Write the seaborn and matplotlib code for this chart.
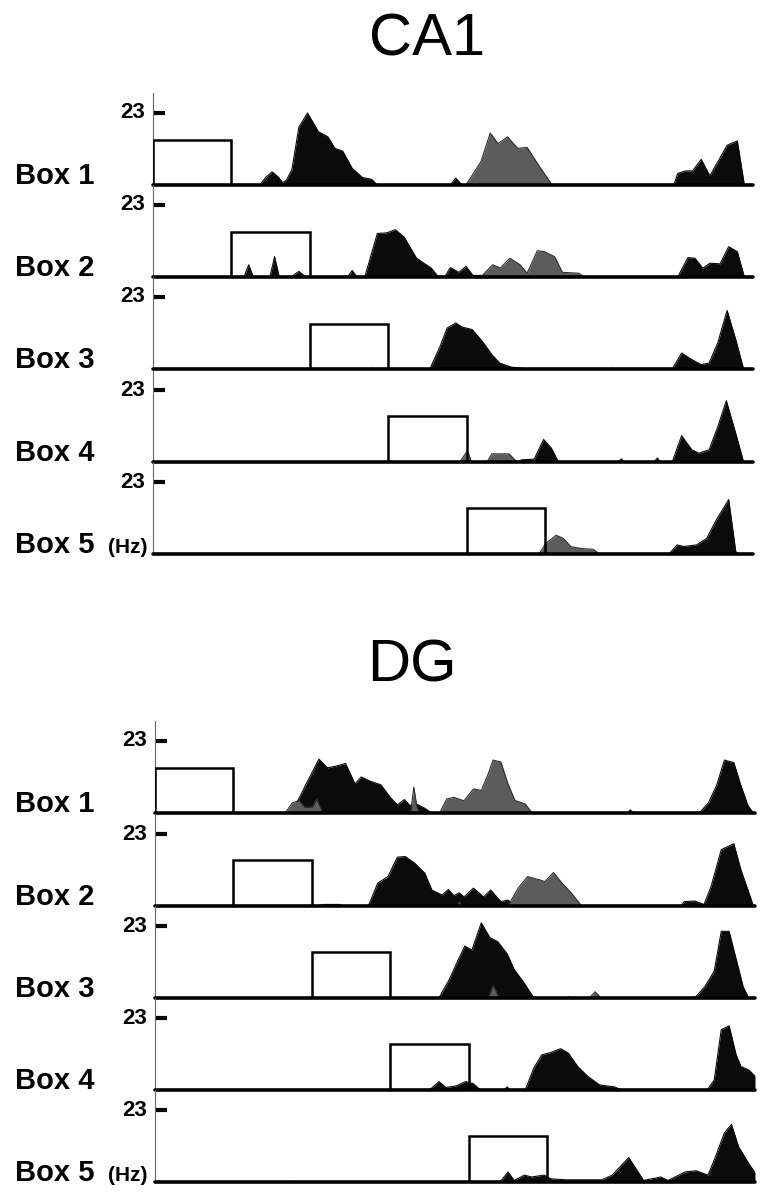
import matplotlib
matplotlib.use("Agg")
import matplotlib.pyplot as plt
import seaborn as sns
from matplotlib.patches import Rectangle

# -------------------------------------------------------
# Plot Style
# -------------------------------------------------------

sns.set_theme(style="white")
plt.rcParams["font.family"] = ["Liberation Sans", "DejaVu Sans"]

# -------------------------------------------------------
# Data (x in position units, y in Hz)
# -------------------------------------------------------

ROW_LABELS = ["Box 1", "Box 2", "Box 3", "Box 4", "Box 5"]
BOX_STARTS = [0, 10, 20, 30, 40]
BOX_WIDTH = 10
CA1_BOX_TOPS = [14.4, 14.4, 14.4, 14.7, 14.7]
DG_BOX_TOPS = [14.4, 14.7, 14.7, 14.7, 14.7]
Y_TICK = 23

ca1_b1_black = [(13.6, 0), (14.4, 2.5), (15.2, 4.2), (16.0, 2.5), (16.5, 0.8), (17.0, 1.5),
                (17.7, 4.8), (18.6, 18.5), (19.7, 23.0), (21.1, 17.0), (22.3, 15.4),
                (23.2, 11.7), (24.2, 10.8), (25.4, 5.3), (26.7, 2.4), (27.9, 1.8), (28.6, 0),
                (37.9, 0), (38.6, 2.2), (39.4, 0), (66.4, 0), (66.9, 3.7), (67.9, 4.5),
                (68.8, 4.5), (69.9, 8.2), (71.0, 2.9), (71.9, 6.9), (73.2, 12.7),
                (74.5, 14.1), (75.4, 0)]
ca1_b1_gray = [(39.9, 0), (41.8, 7.4), (43.0, 16.6), (44.0, 13.2), (45.2, 15.4),
               (46.5, 11.7), (47.7, 12.0), (49.3, 5.8), (50.9, 0)]

ca1_b2_black = [(11.6, 0), (12.2, 3.9), (12.8, 0), (14.9, 0), (15.5, 6.5), (16.1, 0),
                (17.6, 0), (18.6, 1.8), (19.5, 0), (24.8, 0), (25.4, 2.1), (26.0, 0),
                (27.0, 0), (28.6, 13.9), (29.8, 14.1), (30.9, 15.1), (32.0, 12.8),
                (33.6, 6.0), (35.5, 2.8), (36.4, 0), (37.2, 0), (37.9, 3.0), (39.0, 1.5),
                (39.9, 3.4), (40.8, 0.5), (42.2, 0.5), (43.0, 2.0), (43.8, 0.3), (66.9, 0),
                (68.2, 6.2), (69.1, 6.0), (70.1, 2.8), (71.0, 4.4), (72.3, 4.2), (73.4, 9.7),
                (74.5, 8.1), (75.4, 0)]
ca1_b2_gray = [(41.8, 0), (43.3, 3.9), (44.3, 2.9), (45.5, 6.0), (46.8, 3.9), (47.7, 1.2),
               (49.0, 8.4), (49.9, 8.1), (51.2, 6.5), (52.2, 1.5), (54.3, 1.2), (55.0, 0)]

ca1_b3_black = [(27.3, 0), (27.8, 0.3), (28.3, 0), (35.3, 0), (36.6, 7.2), (37.5, 13.1),
                (38.6, 14.7), (39.4, 13.4), (40.7, 12.6), (42.0, 8.8), (43.2, 4.6),
                (44.2, 1.9), (45.7, 0.6), (47.9, 0), (58.2, 0), (58.6, 0.3), (59.0, 0),
                (66.2, 0), (67.4, 5.1), (68.7, 3.0), (69.9, 1.4), (70.9, 1.9), (72.0, 8.3),
                (73.2, 18.7), (74.3, 9.4), (75.3, 0)]
ca1_b3_gray = []

ca1_b4_black = [(46.5, 0), (47.0, 0.7), (48.6, 0.9), (49.8, 7.2), (50.8, 4.4), (51.7, 0),
                (59.3, 0), (59.7, 1.0), (60.1, 0), (63.9, 0), (64.3, 1.3), (64.7, 0),
                (66.2, 0), (67.4, 8.4), (68.7, 3.9), (69.6, 2.8), (70.9, 3.9), (72.0, 11.2),
                (73.1, 19.6), (74.3, 9.1), (75.3, 0)]
ca1_b4_gray = [(39.1, 0), (40.1, 3.6), (40.6, 0), (42.6, 0), (43.2, 2.6), (45.4, 2.6),
               (46.4, 0)]

ca1_b5_black = [(65.8, 0), (66.8, 2.9), (67.7, 2.4), (69.3, 2.9), (70.6, 5.0), (71.8, 10.8),
                (73.4, 17.4), (74.3, 0.8), (74.6, 0)]
ca1_b5_gray = [(49.2, 0), (50.1, 3.4), (51.4, 6.0), (52.3, 5.0), (53.3, 2.3), (54.8, 1.7),
               (56.1, 1.5), (57.0, 0)]

dg_b1_black = [(16.9, 0), (18.1, 3.4), (19.4, 9.9), (20.9, 17.2), (22.0, 14.4), (23.1, 15.0),
               (24.3, 15.8), (25.5, 9.3), (26.3, 11.5), (27.5, 10.1), (28.8, 9.0),
               (30.0, 5.0), (30.9, 2.6), (31.8, 4.3), (32.5, 2.4), (33.4, 2.8), (34.4, 1.5),
               (35.3, 0), (60.2, 0), (60.6, 1.0), (61.0, 0), (69.4, 0), (70.6, 3.4),
               (71.6, 8.8), (72.6, 16.9), (73.8, 16.1), (74.7, 8.8), (75.6, 2.4), (76.3, 0)]
dg_b1_gray = [(16.6, 0), (17.5, 3.2), (18.4, 4.0), (19.1, 1.8), (20.1, 2.0), (20.6, 4.6),
              (21.3, 0.5), (21.6, 0), (32.6, 0), (33.0, 8.3), (33.4, 1.8), (33.8, 0),
              (36.3, 0), (37.2, 4.5), (38.1, 5.0), (39.4, 3.9), (40.6, 7.7), (41.6, 7.2),
              (42.5, 12.6), (43.1, 16.9), (44.1, 16.3), (45.0, 9.3), (45.9, 4.0),
              (47.2, 2.9), (48.1, 0)]

dg_b2_black = [(20.5, 0), (21.5, 0.5), (23.5, 0.5), (24.0, 0), (27.2, 0), (28.4, 7.3),
               (29.7, 9.4), (30.9, 15.6), (31.9, 15.8), (33.1, 13.7), (34.4, 10.5),
               (35.3, 5.1), (36.6, 3.5), (37.4, 5.3), (38.1, 3.3), (38.8, 4.2), (39.4, 2.9),
               (40.6, 5.7), (41.9, 2.9), (42.8, 5.1), (44.1, 1.4), (45.0, 1.9), (46.0, 0),
               (67.0, 0), (67.5, 1.4), (68.8, 1.6), (70.0, 0.5), (70.9, 6.2), (72.2, 18.0),
               (73.8, 19.9), (74.7, 11.6), (76.3, 0)]
dg_b2_gray = [(38.4, 0), (38.8, 1.4), (39.2, 0), (45.0, 0), (46.3, 5.7), (47.5, 9.4),
              (49.1, 8.3), (49.7, 7.8), (50.8, 10.7), (51.9, 7.3), (53.1, 4.1), (54.4, 0)]

dg_b3_black = [(31.3, 0), (31.6, 0.3), (31.9, 0), (36.2, 0), (37.5, 5.8), (38.7, 12.4),
               (39.5, 16.6), (40.4, 15.3), (41.6, 24.0), (42.7, 19.3), (43.7, 18.0),
               (44.9, 14.1), (45.8, 9.1), (47.1, 4.7), (48.3, 0), (52.4, 0), (52.7, 0.4),
               (53.0, 0), (68.8, 0), (70.1, 3.6), (71.3, 8.6), (72.2, 21.3), (73.2, 21.3),
               (74.1, 12.4), (75.0, 3.5), (75.7, 0)]
dg_b3_gray = [(42.5, 0), (43.1, 4.1), (43.8, 0.5), (44.0, 0), (55.4, 0), (56.1, 2.0),
              (56.9, 0)]

dg_b4_black = [(35.0, 0), (36.2, 2.7), (37.1, 0.8), (38.4, 1.3), (39.6, 2.7), (40.6, 2.0),
               (41.5, 0), (44.5, 0), (44.9, 1.0), (45.3, 0), (47.2, 0), (48.3, 7.0),
               (49.3, 11.2), (50.5, 12.0), (51.7, 13.2), (52.7, 11.8), (53.9, 7.5),
               (55.2, 4.3), (56.7, 1.6), (58.6, 1.0), (59.5, 0), (70.4, 0), (71.3, 3.2),
               (72.2, 19.3), (73.2, 20.5), (74.1, 11.2), (74.7, 7.5), (75.7, 6.4),
               (76.5, 4.5)]
dg_b4_gray = []

dg_b5_black = [(17.3, 0), (17.6, 0.3), (17.9, 0), (44.0, 0), (45.0, 3.2), (45.8, 0.5),
               (47.1, 2.2), (48.0, 1.6), (49.6, 2.2), (50.5, 1.0), (52.4, 0.7), (57.0, 0.7),
               (58.3, 2.2), (60.4, 7.8), (62.3, 0.5), (64.5, 1.6), (65.4, 0.5), (67.6, 3.2),
               (69.0, 3.6), (70.5, 2.2), (71.3, 7.0), (72.6, 15.7), (73.5, 18.4),
               (74.4, 11.3), (75.7, 5.9), (76.5, 3.0)]
dg_b5_gray = []

CA1_BLACK = [ca1_b1_black, ca1_b2_black, ca1_b3_black, ca1_b4_black, ca1_b5_black]
CA1_GRAY = [ca1_b1_gray, ca1_b2_gray, ca1_b3_gray, ca1_b4_gray, ca1_b5_gray]
DG_BLACK = [dg_b1_black, dg_b2_black, dg_b3_black, dg_b4_black, dg_b5_black]
DG_GRAY = [dg_b1_gray, dg_b2_gray, dg_b3_gray, dg_b4_gray, dg_b5_gray]

# -------------------------------------------------------
# Layout (pixels)
# -------------------------------------------------------

W, H = 762, 1199
ROW_H = 92
TICK_PX = 72
YMAX = Y_TICK * ROW_H / TICK_PX
XMAX = 76.5

BLACK = "#0b0b0b"
GRAY = "#5c5c5c"

fig = plt.figure(figsize=(W / 100, H / 100), dpi=100)
fig.patch.set_facecolor("white")


def draw_series(ax, pts, fill, edge, z):
    if not pts:
        return
    xs = [p[0] for p in pts]
    ys = [p[1] for p in pts]
    ax.fill_between(xs, ys, 0, color=fill, linewidth=0, zorder=z)
    sns.lineplot(x=xs, y=ys, sort=False, estimator=None, color=edge,
                 linewidth=0.8, ax=ax, zorder=z + 0.5)


def draw_panel(title, title_x, title_base, left, baselines, blacks, grays, box_tops):
    fig.text(title_x / W, 1 - title_base / H, title, ha="center", va="baseline",
             fontsize=43, color="black")
    for i, base in enumerate(baselines):
        ax = fig.add_axes([left / W, 1 - base / H, 600 / W, ROW_H / H])
        ax.patch.set_alpha(0)

        draw_series(ax, blacks[i], BLACK, BLACK, 2)
        draw_series(ax, grays[i], GRAY, "#2e2e2e", 3)

        ax.add_patch(Rectangle((BOX_STARTS[i], 0), BOX_WIDTH, box_tops[i],
                               fill=False, edgecolor="black", linewidth=1.8,
                               zorder=4))
        ax.axhline(0, color="black", linewidth=2.6, zorder=5, clip_on=False)

        ax.set_xlim(0, XMAX)
        ax.set_ylim(0, YMAX)

        for s in ["top", "right", "bottom"]:
            ax.spines[s].set_visible(False)
        ax.spines["left"].set_color("#666666")
        ax.spines["left"].set_linewidth(0.8)

        ax.set_xticks([])
        ax.set_yticks([Y_TICK])
        ax.tick_params(axis="y", left=True, direction="in", length=8.5, width=3,
                       color="black", labelleft=False)
        ax.text(-0.013, Y_TICK, str(Y_TICK), transform=ax.get_yaxis_transform(),
                ha="right", va="center", fontsize=16, fontweight="bold",
                color="black")
        ax.set_xlabel("")
        ax.set_ylabel("")

        fig.text(15 / W, 1 - (base - 1) / H, ROW_LABELS[i], ha="left",
                 va="baseline", fontsize=21, fontweight="bold", color="black")
        if i == 4:
            fig.text(108 / W, 1 - (base - 1) / H, "(Hz)", ha="left",
                     va="baseline", fontsize=15, fontweight="bold", color="black")


draw_panel("CA1", 427, 55, 153, [185, 277, 369, 462, 554], CA1_BLACK, CA1_GRAY, CA1_BOX_TOPS)
draw_panel("DG", 412, 682, 155, [813, 906, 998, 1090, 1182], DG_BLACK, DG_GRAY, DG_BOX_TOPS)

plt.savefig("out.png", dpi=100, facecolor="white")
plt.close()
